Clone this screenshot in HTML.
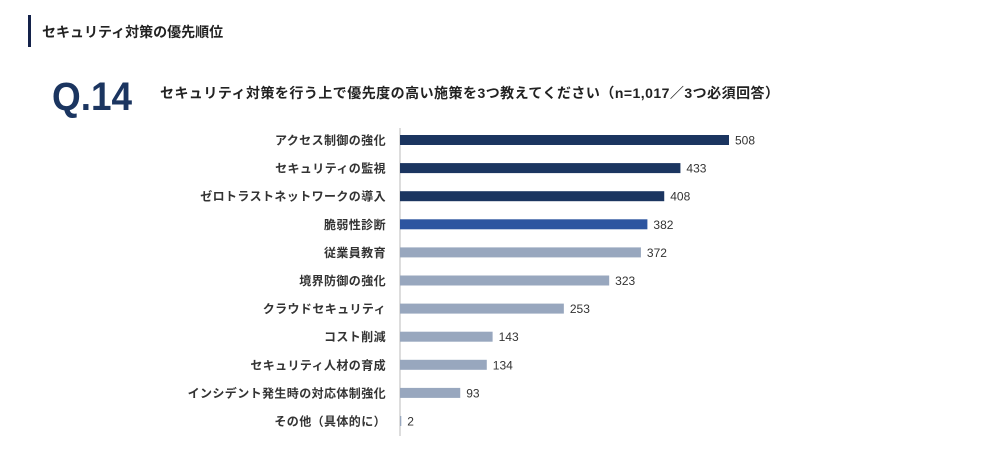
<!DOCTYPE html>
<html><head><meta charset="utf-8"><style>
body{margin:0;background:#fff;width:1000px;height:463px;overflow:hidden;font-family:"Liberation Sans","Noto Sans CJK JP",sans-serif;}
</style></head><body>
<svg width="1000" height="463" style="position:absolute;left:0;top:0;font-family:'Liberation Sans','Noto Sans CJK JP',sans-serif">
<rect x="28" y="15" width="3" height="32" fill="#14224a"/>
<text x="42" y="37" font-size="14" font-weight="bold" fill="#222">セキュリティ対策の優先順位</text>
<text x="52" y="110" font-size="40" font-weight="bold" fill="#1b3560" textLength="80" lengthAdjust="spacingAndGlyphs">Q.14</text>
<text x="160" y="98" font-size="14" font-weight="bold" fill="#222" textLength="619" lengthAdjust="spacing">セキュリティ対策を行う上で優先度の高い施策を3つ教えてください（n=1,017／3つ必須回答）</text>
<line x1="400" y1="128" x2="400" y2="436" stroke="#bbb" stroke-width="1"/>
<g id="bars"></g>
</svg>
<script>
const categories=["アクセス制御の強化","セキュリティの監視","ゼロトラストネットワークの導入","脆弱性診断","従業員教育","境界防御の強化","クラウドセキュリティ","コスト削減","セキュリティ人材の育成","インシデント発生時の対応体制強化","その他（具体的に）"];
const values=[508,433,408,382,372,323,253,143,134,93,2];
const colorGroups=["dark","dark","dark","blue","gray","gray","gray","gray","gray","gray","gray"];
const palette={dark:"#1b3560",blue:"#2d55a0",gray:"#98a7be"};
const x=v=>400+v*329/508;
const y=i=>140+i*28.1;
const g=document.getElementById('bars');
const ns="http://www.w3.org/2000/svg";
categories.forEach((c,i)=>{
  const r=document.createElementNS(ns,'rect');
  r.setAttribute('x',400);r.setAttribute('y',y(i)-5);
  r.setAttribute('width',Math.max(0,x(values[i])-400));r.setAttribute('height',10);
  r.setAttribute('fill',palette[colorGroups[i]]);
  
  
  g.appendChild(r);
  const l=document.createElementNS(ns,'text');
  l.setAttribute('x',386);l.setAttribute('y',y(i)+4.5);l.setAttribute('text-anchor','end');
  l.setAttribute('font-size','12');l.setAttribute('font-weight','bold');l.setAttribute('fill','#333');
  l.setAttribute('letter-spacing','0.4');
  l.textContent=c;
  
  
  g.appendChild(l);
  const v=document.createElementNS(ns,'text');
  v.setAttribute('x',x(values[i])+6);v.setAttribute('y',y(i)+4.5);
  v.setAttribute('font-size','12');v.setAttribute('fill','#333');
  v.textContent=values[i];
  
  
  g.appendChild(v);
});
</script>
</body></html>
